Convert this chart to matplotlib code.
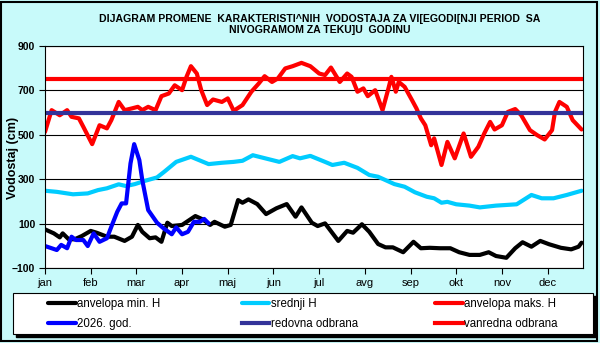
import matplotlib
matplotlib.use("Agg")
import matplotlib.pyplot as plt
from matplotlib.patches import Rectangle

# -----------------------------
# Data (day of year, water level in cm)
# -----------------------------
months = ["jan", "feb", "mar", "apr", "maj", "jun",
          "jul", "avg", "sep", "okt", "nov", "dec"]

max_days = [0, 4.5, 10, 15, 18, 23, 26, 32, 37, 42, 45, 50, 54, 59, 63, 66, 70, 75, 79, 84,
            88, 93, 96, 99, 103, 106, 110, 114, 120, 124, 128, 134, 140, 145, 149, 154, 158, 163, 168, 174,
            180, 186, 190, 194, 200, 205, 208, 212, 216, 219, 224, 229, 233, 235, 238, 240, 244, 249, 252, 255,
            258, 262, 264, 269, 273, 278, 284, 289, 294, 298, 302, 305, 310, 314, 319, 323, 329, 334, 339, 344,
            346, 349, 354, 358, 364]
max_vals = [513, 611, 588, 611, 581, 574, 536, 458, 543, 529, 566, 648, 611, 619, 626, 611, 626, 611, 674, 686,
            723, 701, 761, 809, 776, 701, 634, 659, 648, 664, 608, 634, 694, 731, 764, 738, 754, 799, 809, 824,
            809, 776, 769, 803, 738, 776, 761, 694, 709, 674, 701, 611, 709, 761, 694, 738, 716, 656, 619, 574,
            543, 453, 484, 364, 468, 394, 506, 401, 446, 506, 558, 524, 543, 603, 616, 589, 521, 498, 479, 521,
            603, 648, 626, 566, 524]

mean_days = [0, 8, 19, 29, 36, 42, 50, 55, 61, 68, 76, 81, 89, 99, 111, 120, 128, 134, 141, 159,
             168, 173, 180, 190, 195, 203, 212, 220, 226, 231, 237, 244, 251, 259, 264, 269, 273, 279, 288, 295,
             306, 320, 330, 337, 345, 354, 364]
mean_vals = [248, 243, 232, 236, 251, 259, 277, 269, 278, 293, 308, 334, 378, 401, 368, 374, 378, 383, 408, 378,
             404, 394, 405, 378, 364, 374, 351, 319, 311, 296, 278, 266, 241, 221, 214, 194, 198, 187, 181, 173,
             181, 187, 229, 214, 214, 229, 248]

min_days = [0, 6, 10, 12, 16, 20, 25, 31, 35, 42, 47, 54, 59, 63, 66, 71, 75, 79, 83, 86,
            93, 102, 107, 112, 115, 122, 126, 131, 134, 138, 144, 150, 157, 164, 170, 174, 181, 185, 190, 199,
            205, 209, 215, 220, 226, 231, 236, 243, 250, 255, 261, 268, 275, 281, 288, 295, 301, 306, 313, 319,
            324, 330, 336, 342, 350, 357, 362, 364]
min_vals = [74, 56, 38, 56, 30, 29, 44, 67, 59, 41, 41, 22, 41, 94, 63, 34, 38, 18, 104, 89,
            94, 134, 119, 94, 108, 86, 94, 206, 194, 209, 188, 143, 169, 188, 131, 173, 104, 89, 101, 22,
            67, 59, 97, 63, 8, -7, -7, -29, 18, -11, -9, -11, -11, -29, -41, -41, -29, -46, -54, -11,
            16, -4, 22, 7, -9, -16, -4, 14]

cur_days = [0, 4.5, 8, 11, 15, 18, 21, 26, 29, 33, 37, 42, 45, 49, 52, 55, 58, 60.5, 64, 66,
            70, 76, 80, 86, 89, 93, 97, 101, 105, 108, 111]
cur_vals = [-1, -11, -19, 4, -11, 41, 26, 26, -1, 56, 18, 34, 86, 153, 191, 191, 371, 458, 386, 296,
            161, 104, 81, 52, 83, 52, 63, 108, 108, 121, 101]

redovna = 600
vanredna = 750

# -----------------------------
# Figure
# -----------------------------
bg = "#c8fafa"
sans = ["Liberation Sans", "DejaVu Sans"]
narrow = ["Liberation Sans Narrow", "Liberation Sans", "DejaVu Sans"]

fig = plt.figure(figsize=(6, 3.43), dpi=100, facecolor=bg)
ax = fig.add_axes([45 / 600, 1 - 268 / 343, 538 / 600, 222 / 343])
ax.set_facecolor("white")

lw = 3.0
style = dict(lw=lw, solid_joinstyle="round", solid_capstyle="round")
ax.plot(min_days, min_vals, color="black", label="anvelopa min. H", **style)
ax.plot(mean_days, mean_vals, color="#00ccff", label="srednji H", **style)
ax.plot(max_days, max_vals, color="#ff0000", label="anvelopa maks. H", **style)
ax.axhline(vanredna, color="#ff0000", lw=lw, label="vanredna odbrana")
ax.axhline(redovna, color="#333399", lw=lw, label="redovna odbrana")
ax.plot(cur_days, cur_vals, color="#0000ff", label="2026. god.", **style)

ax.set_xlim(0, 365)
ax.set_ylim(-100, 900)
ax.set_yticks(range(-100, 1000, 200))
ax.set_xticks([31 * i for i in range(12)])
ax.set_xticklabels(months, fontfamily=sans, fontsize=8)
for t in ax.get_yticklabels():
    t.set_fontfamily(sans)
    t.set_fontweight("bold")
    t.set_fontsize(7.5)
ax.yaxis.grid(True, color="black", lw=0.8)
ax.set_axisbelow(True)
ax.tick_params(direction="out", length=4, width=0.8, pad=3)
for s in ax.spines.values():
    s.set_linewidth(0.8)

fig.text(13 / 600, 1 - 158 / 343, "Vodostaj (cm)", rotation=90, ha="center", va="center",
         fontfamily=sans, fontweight="bold", fontsize=9)

# title
fig.text(320 / 600, 1 - 19 / 343,
         "DIJAGRAM PROMENE  KARAKTERISTI^NIH  VODOSTAJA ZA VI[EGODI[NJI PERIOD  SA",
         ha="center", va="center", fontfamily=narrow, fontweight="bold", fontsize=7.6)
fig.text(320 / 600, 1 - 30 / 343, "NIVOGRAMOM ZA TEKU]U  GODINU",
         ha="center", va="center", fontfamily=narrow, fontweight="bold", fontsize=7.6)

# -----------------------------
# Legend box with shadow
# -----------------------------
bx, by, bw, bh = 13.3 / 600, 1 - 334 / 343, 580 / 600, 40.7 / 343
fig.patches.append(Rectangle((bx + 3 / 600, by - 3 / 343), bw, bh, transform=fig.transFigure,
                             facecolor="black", edgecolor="black", zorder=1))
fig.patches.append(Rectangle((bx, by), bw, bh, transform=fig.transFigure,
                             facecolor="white", edgecolor="black", lw=0.8, zorder=2))

handles = {h.get_label(): h for h in ax.get_lines()}
columns = [["anvelopa min. H", "2026. god."],
           ["srednji H", "redovna odbrana"],
           ["anvelopa maks. H", "vanredna odbrana"]]
col_x = [48.3, 241.7, 435]
for labels, x in zip(columns, col_x):
    fig.legend([handles[l] for l in labels], labels, loc="center left",
               bbox_to_anchor=(x / 600, 1 - 313.7 / 343), frameon=False,
               borderpad=0, borderaxespad=0, handlelength=2.4, handletextpad=0.1,
               labelspacing=0.72, prop={"family": sans, "size": 8.3})

# outer frame
fig.patches.append(Rectangle((1 / 600, 2 / 343), 596 / 600, 339 / 343, transform=fig.transFigure,
                             facecolor="none", edgecolor="black", lw=1.5, zorder=3))

fig.savefig("out.png", dpi=100, facecolor=bg)
